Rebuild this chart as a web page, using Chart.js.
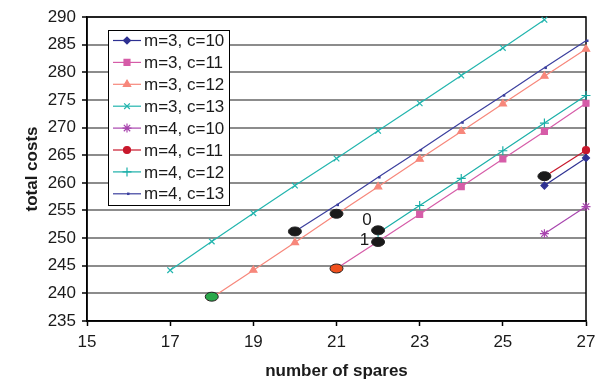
<!DOCTYPE html>
<html lang="en">
<head>
<meta charset="UTF-8">
<title>Total costs vs number of spares</title>
<script src="https://cdn.jsdelivr.net/npm/chart.js"></script>
<style>body { margin: 0; background: #fff; }</style>
</head>
<body>
<canvas id="costChart" width="607" height="386"></canvas>
<script>
// values
const m3c10X = [26, 27];
const m3c10Y = [259.5, 264.5];
const m3c11X = [21, 22, 23, 24, 25, 26, 27];
const m3c11Y = [244.5, 249.4, 254.3, 259.3, 264.3, 269.3, 274.4];
const m3c12X = [18, 19, 20, 21, 22, 23, 24, 25, 26, 27];
const m3c12Y = [239.2, 244.2, 249.2, 254.3, 259.3, 264.3, 269.3, 274.3, 279.3, 284.2];
const m3c13X = [17, 18, 19, 20, 21, 22, 23, 24, 25, 26];
const m3c13Y = [244.2, 249.4, 254.5, 259.5, 264.4, 269.4, 274.4, 279.4, 284.4, 289.5];
const m4c10X = [26, 27];
const m4c10Y = [250.8, 255.7];
const m4c11X = [26, 27];
const m4c11Y = [261.1, 265.9];
const m4c12X = [22, 23, 24, 25, 26, 27];
const m4c12Y = [250.9, 255.9, 260.8, 265.8, 270.8, 275.8];
const m4c13X = [20, 21, 22, 23, 24, 25, 26, 27];
const m4c13Y = [251.2, 256.0, 261.0, 265.9, 270.9, 275.8, 280.8, 285.7];

// highlighted optima (the blobs) and the two small labels
const markX = [18, 21, 20, 21, 22, 22, 26];
const markY = [239.4, 244.5, 251.2, 254.4, 251.4, 249.3, 261.2];
const markColors = ['#2aa84a', '#f0501e', '#1a1a1a', '#1a1a1a', '#1a1a1a', '#1a1a1a', '#1a1a1a'];
const noteText = ['0', '1'];
const noteX = [21.73, 21.67];
const noteY = [253.3, 249.6];

const FONT = '"Liberation Sans", Arial, sans-serif';

function series(label, xs, ys, color, style, radius, pbw) {
    return {
        label: label,
        data: xs.map((x, i) => ({ x: x, y: ys[i] })),
        showLine: true,
        borderColor: color,
        backgroundColor: color,
        borderWidth: 1.2,
        pointStyle: style,
        pointRadius: radius,
        pointBackgroundColor: color,
        pointBorderColor: color,
        pointBorderWidth: pbw || 1.2,
        clip: false
    };
}

const plotBorder = {
    id: 'plotBorder',
    beforeDatasetsDraw(chart) {
        const a = chart.chartArea, ctx = chart.ctx;
        ctx.save();
        ctx.strokeStyle = '#000';
        ctx.lineWidth = 1.5;
        ctx.strokeRect(a.left, a.top, a.right - a.left, a.bottom - a.top);
        ctx.restore();
    }
};

const marks = {
    id: 'marks',
    afterDatasetsDraw(chart) {
        const ctx = chart.ctx, xs = chart.scales.x, ys = chart.scales.y;
        ctx.save();
        markX.forEach((v, i) => {
            const px = xs.getPixelForValue(v), py = ys.getPixelForValue(markY[i]);
            ctx.beginPath();
            ctx.ellipse(px, py, 6.5, 4.5, 0, 0, Math.PI * 2);
            ctx.fillStyle = markColors[i];
            ctx.fill();
            ctx.lineWidth = 1;
            ctx.strokeStyle = '#222';
            ctx.stroke();
        });
        ctx.fillStyle = '#1a1a1a';
        ctx.font = '17px ' + FONT;
        ctx.textAlign = 'center';
        ctx.textBaseline = 'middle';
        noteText.forEach((t, i) => {
            ctx.fillText(t, xs.getPixelForValue(noteX[i]), ys.getPixelForValue(noteY[i]));
        });
        ctx.restore();
    }
};

// boxed legend inside the plot, top left
const legendBox = {
    id: 'legendBox',
    afterDraw(chart) {
        const ctx = chart.ctx;
        const x0 = 108, y0 = 30, w = 121, h = 175;
        ctx.save();
        ctx.fillStyle = '#fff';
        ctx.fillRect(x0, y0, w, h);
        ctx.strokeStyle = '#000';
        ctx.lineWidth = 1;
        ctx.strokeRect(x0 + 0.5, y0 + 0.5, w, h);
        chart.data.datasets.forEach((ds, i) => {
            const y = y0 + 10.5 + i * 21.9;
            ctx.strokeStyle = ds.borderColor;
            ctx.lineWidth = 1.2;
            ctx.beginPath();
            ctx.moveTo(x0 + 5, y);
            ctx.lineTo(x0 + 33, y);
            ctx.stroke();
            ctx.fillStyle = ds.pointBackgroundColor;
            ctx.strokeStyle = ds.pointBorderColor;
            ctx.lineWidth = ds.pointBorderWidth;
            Chart.helpers.drawPoint(ctx, {
                pointStyle: ds.pointStyle, radius: ds.pointRadius,
                borderWidth: ds.pointBorderWidth, rotation: 0
            }, x0 + 19, y);
            ctx.fillStyle = '#1a1a1a';
            ctx.font = '17px ' + FONT;
            ctx.textAlign = 'left';
            ctx.textBaseline = 'middle';
            ctx.fillText(ds.label, x0 + 36, y + 1);
        });
        ctx.restore();
    }
};

const ctx = document.getElementById('costChart').getContext('2d');
new Chart(ctx, {
    type: 'scatter',
    data: {
        datasets: [
            series('m=3, c=10', m3c10X, m3c10Y, '#2e3192', 'rectRot', 3.5),
            series('m=3, c=11', m3c11X, m3c11Y, '#d65ca8', 'rect', 4.2),
            series('m=3, c=12', m3c12X, m3c12Y, '#f7877b', 'triangle', 4.2),
            series('m=3, c=13', m3c13X, m3c13Y, '#22b5ae', 'crossRot', 4),
            series('m=4, c=10', m4c10X, m4c10Y, '#a845ae', 'star', 4.5),
            series('m=4, c=11', m4c11X, m4c11Y, '#c8182c', 'circle', 3.5),
            series('m=4, c=12', m4c12X, m4c12Y, '#1aafa8', 'cross', 4.5),
            series('m=4, c=13', m4c13X, m4c13Y, '#3b3f9e', 'dash', 2.5, 2.5)
        ]
    },
    options: {
        responsive: false,
        animation: false,
        events: [],
        layout: { padding: { top: 17, right: 21, left: 0, bottom: 0 } },
        plugins: { legend: { display: false }, tooltip: { enabled: false } },
        scales: {
            x: {
                type: 'linear',
                min: 15, max: 27,
                afterFit: s => { s.height = 65; },
                ticks: { stepSize: 2, color: '#1a1a1a', font: { family: FONT, size: 17 }, padding: 6, maxRotation: 0 },
                grid: { drawOnChartArea: false, tickLength: 5, tickColor: '#000', tickWidth: 1.5 },
                border: { color: '#000', width: 1.5 },
                title: { display: true, text: 'number of spares', color: '#1a1a1a',
                         font: { family: FONT, size: 17, weight: 'bold' }, padding: { top: 0, bottom: 4 } }
            },
            y: {
                min: 235, max: 290,
                afterFit: s => { s.width = 87; },
                ticks: { stepSize: 5, color: '#1a1a1a', font: { family: FONT, size: 17 }, padding: 6 },
                grid: { color: '#8c8c8c', lineWidth: 2, tickLength: 5, tickColor: '#000', tickWidth: 1.5 },
                border: { color: '#000', width: 1.5 },
                title: { display: true, text: 'total costs', color: '#1a1a1a',
                         font: { family: FONT, size: 17, weight: 'bold' }, padding: { top: 22, bottom: 0 } }
            }
        }
    },
    plugins: [plotBorder, marks, legendBox]
});
</script>
</body>
</html>
